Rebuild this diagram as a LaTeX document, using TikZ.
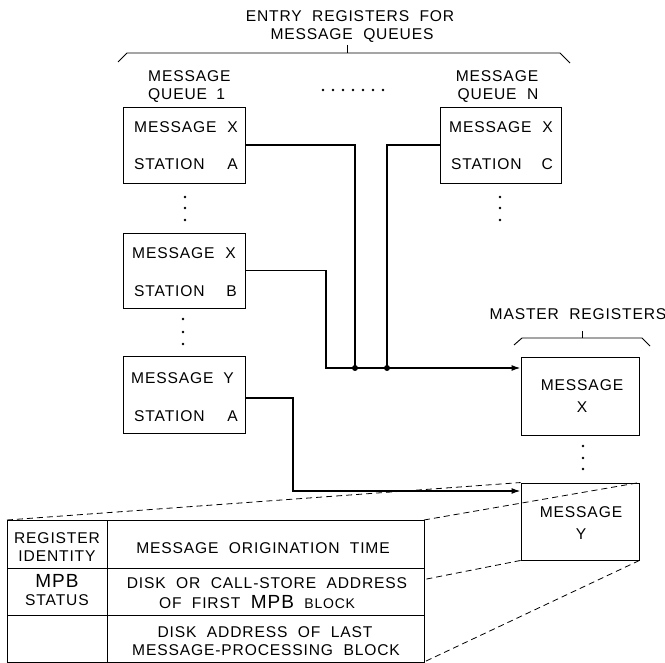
\documentclass[tikz,border=0pt]{standalone}
\usepackage{fontspec}
\setmainfont{Liberation Sans}[LetterSpace=5.5,WordSpace=2]
\usetikzlibrary{arrows.meta,calc}
\newcommand\lblfont{\fontsize{15.6}{18}\selectfont}
\newcommand\bigmpb[1]{{\fontsize{19}{18}\selectfont #1}}
\newcommand\smallblk[1]{{\fontsize{14}{14}\selectfont #1}}
\begin{document}
\begin{tikzpicture}[x=1pt,y=-1pt,
  lbl/.style={inner sep=0pt, anchor=base, font=\lblfont},
  lblw/.style={lbl, anchor=base west},
  lble/.style={lbl, anchor=base east},
  regbox/.style={draw, line width=0.9pt, inner sep=0pt},
  conn/.style={line width=1.4pt},
  persp/.style={dash pattern=on 6pt off 4pt, line width=0.8pt},
  vdot/.style={circle, fill, inner sep=0pt, minimum size=2.8pt},
  jdot/.style={circle, fill, inner sep=0pt, minimum size=6pt},
  brc/.style={line width=0.9pt},
  arr/.style={conn, -{Latex[length=9pt,width=6pt]}}
]
\useasboundingbox (0,0) rectangle (665,663);

% register boxes
\node[regbox, minimum width=122pt, minimum height=76pt] (q1) at (184,145) {};
\node[regbox, minimum width=121pt, minimum height=76pt] (qn) at (500.5,145) {};
\node[regbox, minimum width=122pt, minimum height=75pt] (qb) at (184,270.5) {};
\node[regbox, minimum width=122pt, minimum height=77pt] (qy) at (184,394.5) {};
\node[regbox, minimum width=118pt, minimum height=78pt] (mx) at (580,396) {};
\node[regbox, minimum width=118pt, minimum height=77pt] (my) at (580,521.5) {};

% perspective lines, then table on top
\coordinate (tnw) at (7,520);
\coordinate (tse) at (424,662);
\draw[persp] (tnw) -- (my.north west);
\draw[persp] (tse |- tnw) -- (my.north east);
\draw[persp] (my.south west) -- (tnw |- tse);
\draw[persp] (my.south east) -- (tse);
\node[regbox, fill=white, minimum width=417pt, minimum height=142pt, anchor=north west] (tbl) at (tnw) {};
\draw[line width=0.9pt] (7,568) -- (424,568);
\draw[line width=0.9pt] (7,615) -- (424,615);
\draw[line width=0.9pt] (107,520) -- (107,662);

% connectors
\coordinate (ja) at (326,368);
\coordinate (jb) at (355,368);
\coordinate (jc) at (387,368);
\coordinate (kb) at (293,491);
\draw[conn] (q1.east) -| (jb);
\draw[conn] (qn.west) -| (jc);
\draw[arr] (qb.east) -| (ja) -- (ja -| mx.west);
\node[jdot] (jbd) at (jb) {};
\node[jdot] (jcd) at (jc) {};
\draw[arr] ([yshift=-3.5pt]qy.east) -| (kb) -- (kb -| my.west);

% braces
\draw[brc] (118,62) -- (127,53) -- (560,53) -- (570,63);
\draw[brc] (347,45) -- (347,53);
\draw[brc] (514,345) -- (522,338) -- (642,338) -- (650,346);
\draw[brc] (582,331) -- (582,338);

% dots
\foreach \yy [count=\i] in {197,208,220} {
  \node[vdot] (d1\i) at (185,\yy) {};
  \node[vdot] (dn\i) at (500,\yy) {};
}
\foreach \yy [count=\i] in {319,332,344} { \node[vdot] (db\i) at (183,\yy) {}; }
\foreach \yy [count=\i] in {446,458,469} { \node[vdot] (dm\i) at (583,\yy) {}; }
\foreach \xx [count=\i] in {323,333,343,353,363,373,383} { \node[vdot] (dh\i) at (\xx,90) {}; }

% headings
\node[lbl] (h1) at (350,22) {ENTRY REGISTERS FOR};
\node[lbl] (h2) at (352,40) {MESSAGE QUEUES};
\node[lblw] (l1a) at (148,82) {MESSAGE};
\node[lblw] (l1b) at (148,100) {QUEUE\hspace{0.6em}1};
\node[lbl] (lna) at (497,82) {MESSAGE};
\node[lbl] (lnb) at (498,100) {QUEUE N};
\node[lbl] (mr) at (578,320) {MASTER REGISTERS};

% box texts
\node[lblw] (t1a) at (134,133) {MESSAGE}; \node[lble] (t1b) at (238,133) {X};
\node[lblw] (t1c) at (134,170) {STATION}; \node[lble] (t1d) at (238,170) {A};
\node[lblw] (tna) at (449,133) {MESSAGE}; \node[lble] (tnb) at (553,133) {X};
\node[lblw] (tnc) at (451,170) {STATION}; \node[lble] (tnd) at (553,170) {C};
\node[lblw] (tba) at (132,259) {MESSAGE}; \node[lble] (tbb) at (236,259) {X};
\node[lblw] (tbc) at (134,297) {STATION}; \node[lble] (tbd) at (237,297) {B};
\node[lblw] (tya) at (131,384) {MESSAGE}; \node[lble] (tyb) at (234,384) {Y};
\node[lblw] (tyc) at (134,421) {STATION}; \node[lble] (tyd) at (238,421) {A};
\node[lbl] (mxa) at (582,391) {MESSAGE}; \node[lbl] (mxb) at (582,413) {X};
\node[lbl] (mya) at (581,517) {MESSAGE}; \node[lbl] (myb) at (581,539) {Y};

% table texts
\node[lbl] (c1) at (57,543) {REGISTER};
\node[lbl] (c2) at (57,561) {IDENTITY};
\node[lbl] (c3) at (57,587) {\bigmpb{MPB}};
\node[lbl] (c4) at (57,605) {STATUS};
\node[lbl] (e1) at (263,553) {MESSAGE ORIGINATION TIME};
\node[lbl] (e2) at (267,588) {DISK OR CALL-STORE ADDRESS};
\node[lbl] (e3) at (257,608) {OF FIRST \bigmpb{MPB} \smallblk{BLOCK}};
\node[lbl] (e4) at (265,637) {DISK ADDRESS OF LAST};
\node[lbl] (e5) at (266,655) {MESSAGE-PROCESSING BLOCK};
\end{tikzpicture}
\end{document}
